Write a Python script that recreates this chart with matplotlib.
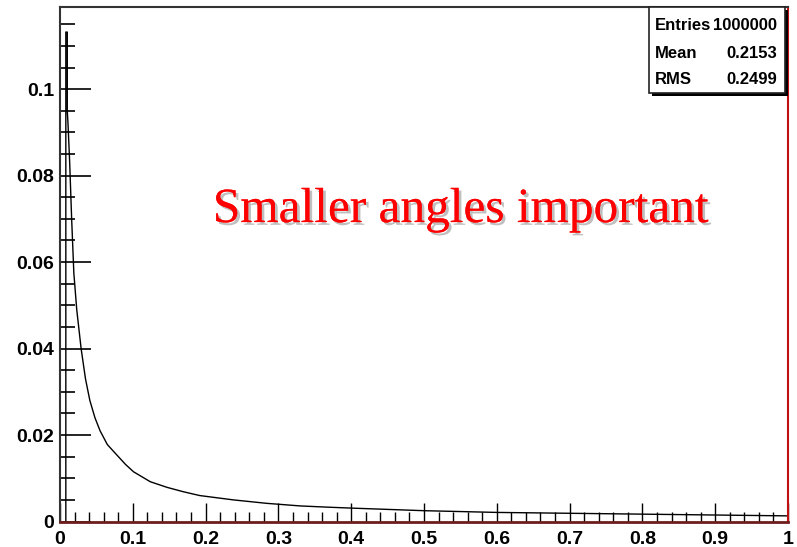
import matplotlib
matplotlib.use("Agg")
import matplotlib.pyplot as plt
import matplotlib.patheffects as pe
from matplotlib.patches import Rectangle
from matplotlib.ticker import MultipleLocator, FixedLocator, FixedFormatter

# histogram outline (bin position, bin content)
angle = [0.008, 0.008, 0.010, 0.010, 0.011, 0.0133, 0.016, 0.019, 0.023, 0.029,
         0.035, 0.041, 0.048, 0.055, 0.065, 0.078, 0.090, 0.101, 0.124, 0.147,
         0.169, 0.192, 0.238, 0.284, 0.330, 0.370, 0.400, 0.450, 0.500, 0.600,
         0.700, 0.800, 0.900, 1.000]
content = [0.0, 0.1132, 0.1132, 0.095, 0.092, 0.083, 0.070, 0.0575, 0.049, 0.040,
           0.033, 0.028, 0.024, 0.021, 0.0178, 0.0154, 0.0132, 0.0115, 0.0092, 0.0079,
           0.0069, 0.0060, 0.0050, 0.0042, 0.0036, 0.0033, 0.0031, 0.0028, 0.0025, 0.0021,
           0.0019, 0.0017, 0.0015, 0.0013]

x_ticks = [0, 0.1, 0.2, 0.3, 0.4, 0.5, 0.6, 0.7, 0.8, 0.9, 1.0]
x_labels = ["0", "0.1", "0.2", "0.3", "0.4", "0.5", "0.6", "0.7", "0.8", "0.9", "1"]
y_ticks = [0, 0.02, 0.04, 0.06, 0.08, 0.1]
y_labels = ["0", "0.02", "0.04", "0.06", "0.08", "0.1"]

stats_names = ["Entries", "Mean", "RMS"]
stats_values = ["1000000", "0.2153", "0.2499"]

fig = plt.figure(figsize=(7.97, 5.47), dpi=100)
ax = fig.add_axes([60 / 797, 25.5 / 547, 728 / 797, 514.5 / 547])

ax.plot(angle, content, color="black", lw=1.0)

ax.set_xlim(0, 1)
ax.set_ylim(0, 0.119)

ax.xaxis.set_major_locator(FixedLocator(x_ticks))
ax.xaxis.set_major_formatter(FixedFormatter(x_labels))
ax.xaxis.set_minor_locator(MultipleLocator(0.02))
ax.yaxis.set_major_locator(FixedLocator(y_ticks))
ax.yaxis.set_major_formatter(FixedFormatter(y_labels))
ax.yaxis.set_minor_locator(MultipleLocator(0.005))

ax.tick_params(axis="x", which="major", direction="in", length=14, width=1.0, pad=7)
ax.tick_params(axis="x", which="minor", direction="in", length=7, width=1.0)
ax.tick_params(axis="y", which="major", direction="in", length=22, width=1.2, pad=4)
ax.tick_params(axis="y", which="minor", direction="in", length=11, width=1.2)
for lab in ax.get_xticklabels() + ax.get_yticklabels():
    lab.set_fontfamily("Liberation Sans")
    lab.set_fontweight("bold")
    lab.set_fontsize(14)

ax.spines["left"].set_color("#333333")
ax.spines["top"].set_color("#333333")
ax.spines["left"].set_linewidth(1.5)
ax.spines["top"].set_linewidth(1.5)
ax.spines["bottom"].set_color("#6e1c1c")
ax.spines["bottom"].set_linewidth(2)
ax.spines["right"].set_color("#c01010")
ax.spines["right"].set_linewidth(1.5)

ax.text(0.210, 0.582, "Smaller angles important", transform=ax.transAxes,
        family="Liberation Serif", fontsize=35.5, color="red", va="baseline",
        path_effects=[pe.withSimplePatchShadow(offset=(2, -2), shadow_rgbFace="gray", alpha=0.5),
                      pe.Normal()])

# stats box
x0, x1 = 649 / 797, 785 / 797
y0, y1 = 1 - 93 / 547, 1 - 7 / 547
fig.patches.append(Rectangle((x0 + 3 / 797, y0 - 3 / 547), x1 - x0, y1 - y0,
                             transform=fig.transFigure, facecolor="black", edgecolor="none", zorder=5))
fig.patches.append(Rectangle((x0, y0), x1 - x0, y1 - y0, transform=fig.transFigure,
                             facecolor="white", edgecolor="#222222", lw=1.2, zorder=6))
row_y = [1 - 25 / 547, 1 - 53 / 547, 1 - 80 / 547]
for name, val, yy in zip(stats_names, stats_values, row_y):
    fig.text(655 / 797, yy, name, family=["Liberation Sans Narrow", "Liberation Sans"],
             weight="bold", fontsize=12, va="center", ha="left", zorder=7)
    fig.text(777 / 797, yy, val, family=["Liberation Sans Narrow", "Liberation Sans"],
             weight="bold", fontsize=12, va="center", ha="right", zorder=7)

fig.savefig("out.png", dpi=100)
